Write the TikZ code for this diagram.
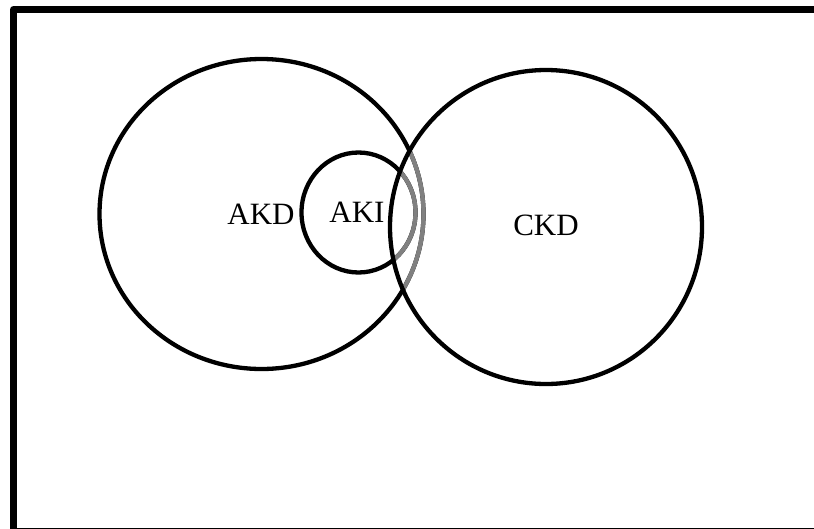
\documentclass[tikz,border=0pt]{standalone}
\usepackage{fontspec}
\setmainfont{Liberation Serif}
\definecolor{overlapgray}{gray}{0.5}

\begin{document}
\begin{tikzpicture}[x=1pt, y=-1pt,
    ring/.style={line width=4.3pt},
    label/.style={font=\fontsize{31}{31}\selectfont, inner sep=0pt}]
  \useasboundingbox (0,0) rectangle (814,528);
  \clip (0,0) rectangle (814,528);
  % frame, cut at right and bottom
  \draw[line width=7pt, line join=round] (13.5,9.5) rectangle (840,531.5);

  \draw[ring] (261.5,214) ellipse [x radius=162, y radius=155];
  \draw[ring] (358.5,212.5) ellipse [x radius=57, y radius=60];
  % parts lying inside CKD
  \begin{scope}
    \clip (546,227) ellipse [x radius=156, y radius=157];
    \draw[ring, overlapgray] (261.5,214) ellipse [x radius=162, y radius=155];
    \draw[ring, overlapgray] (358.5,212.5) ellipse [x radius=57, y radius=60];
  \end{scope}
  \draw[ring] (546,227) ellipse [x radius=156, y radius=157];

  \node[label] (akd) at (261,214) {AKD};
  \node[label] (aki) at (357,212) {AKI};
  \node[label] (ckd) at (546,225) {CKD};
\end{tikzpicture}
\end{document}
